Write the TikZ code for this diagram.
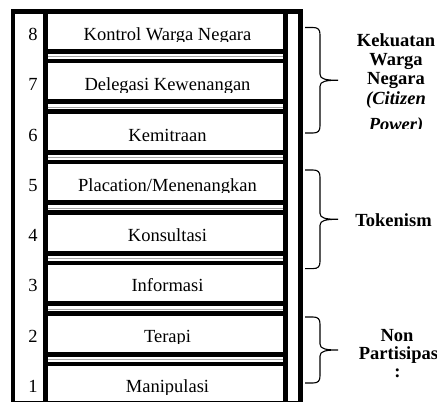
\documentclass[tikz,border=0pt]{standalone}
\usepackage{fontspec}
\setmainfont{Liberation Serif}
\newcommand{\wordbrace}[2]{%
  \pgfmathsetmacro{\bT}{#1}\pgfmathsetmacro{\bB}{#2}%
  \pgfmathsetmacro{\bM}{(#1+#2)/2}%
  \draw[bracestyle] (305,\bT) -- (313,\bT) .. controls (318,\bT) and (320,\bT+2) .. (320,\bT+7)
    -- (320,\bM-6) .. controls (320,\bM-1) and (326,\bM) .. (338,\bM)
    .. controls (326,\bM) and (320,\bM+1) .. (320,\bM+6)
    -- (320,\bB-7) .. controls (320,\bB-2) and (318,\bB) .. (313,\bB) -- (305,\bB);}
\begin{document}
\begin{tikzpicture}[x=1pt,y=-1pt,
  bar/.style={fill=black,draw=none},
  boxtext/.style={font=\fontsize{18.5}{19}\selectfont,anchor=base,inner sep=0pt},
  labtext/.style={font=\bfseries\fontsize{18.5}{19}\selectfont,anchor=base,inner sep=0pt},
  bracestyle/.style={draw=black,line width=1.1pt},
  gapline/.style={draw=gray!70,line width=0.5pt}]
\useasboundingbox (0,0) rectangle (437,403);
\fill[white] (0,0) rectangle (437,403);
% frame
\fill[bar] (11,9) rectangle (15,401);
\fill[bar] (11,9) rectangle (303,14);
\fill[bar] (43,9) rectangle (48,401);
\fill[bar] (283,9) rectangle (288,401);
\fill[bar] (298,9) rectangle (303,401);
\draw[line width=0.8pt] (11,401) -- (303,401);
% rungs
\foreach \r in {49,99.5,150,200.5,251,301.5,352}{
  \fill[bar] (48,\r) rectangle (283,\r+5);
  \draw[gapline] (48,\r+7.5) -- (283,\r+7.5);
  \fill[bar] (48,\r+10) rectangle (283,\r+14.5);
}
% box texts (clipped just below baseline)
\begin{scope}\clip (48,14) rectangle (283,42);
  \node[boxtext] (t8) at (167.5,40.5) {Kontrol Warga Negara};\end{scope}
\begin{scope}\clip (48,64) rectangle (283,92.3);
  \node[boxtext] (t7) at (167.5,90.8) {Delegasi Kewenangan};\end{scope}
\begin{scope}\clip (48,114) rectangle (283,142.6);
  \node[boxtext] (t6) at (167.5,141.1) {Kemitraan};\end{scope}
\begin{scope}\clip (48,164.5) rectangle (283,192.9);
  \node[boxtext] (t5) at (167.5,191.4) {Placation/Menenangkan};\end{scope}
\begin{scope}\clip (48,215) rectangle (283,243.2);
  \node[boxtext] (t4) at (167.5,241.7) {Konsultasi};\end{scope}
\begin{scope}\clip (48,265.5) rectangle (283,293.5);
  \node[boxtext] (t3) at (167.5,292) {Informasi};\end{scope}
\begin{scope}\clip (48,316) rectangle (283,343.8);
  \node[boxtext] (t2) at (167.5,342.3) {Terapi};\end{scope}
\begin{scope}\clip (48,366.5) rectangle (283,394.1);
  \node[boxtext] (t1) at (167.5,392.6) {Manipulasi};\end{scope}
% numbers
\node[boxtext] (n8) at (33,40.5) {8};
\node[boxtext] (n7) at (33,90.8) {7};
\node[boxtext] (n6) at (33,141.1) {6};
\node[boxtext] (n5) at (33,191.4) {5};
\node[boxtext] (n4) at (33,241.7) {4};
\node[boxtext] (n3) at (33,292) {3};
\node[boxtext] (n2) at (33,342.3) {2};
\node[boxtext] (n1) at (33,392.6) {1};
% braces
\wordbrace{27.5}{133}
\wordbrace{170}{268.6}
\wordbrace{317}{383}
% labels
\node[labtext] (la) at (396,46.5) {Kekuatan};
\node[labtext] (lb) at (396,66) {Warga};
\node[labtext] (lc) at (396,85) {Negara};
\node[labtext] (ld) at (396,104.5) {\itshape(Citizen};
\begin{scope}\clip (340,112) rectangle (437,129);
  \node[labtext] (le) at (396,131) {\itshape Power)};\end{scope}
\node[labtext] (tok) at (393.5,226.5) {Tokenism};
\node[labtext] (na) at (397,341.7) {Non};
\node[labtext] (nb) at (398.5,360) {Partisipas};
\node[labtext] (nc) at (397.5,378) {:};
\end{tikzpicture}
\end{document}
